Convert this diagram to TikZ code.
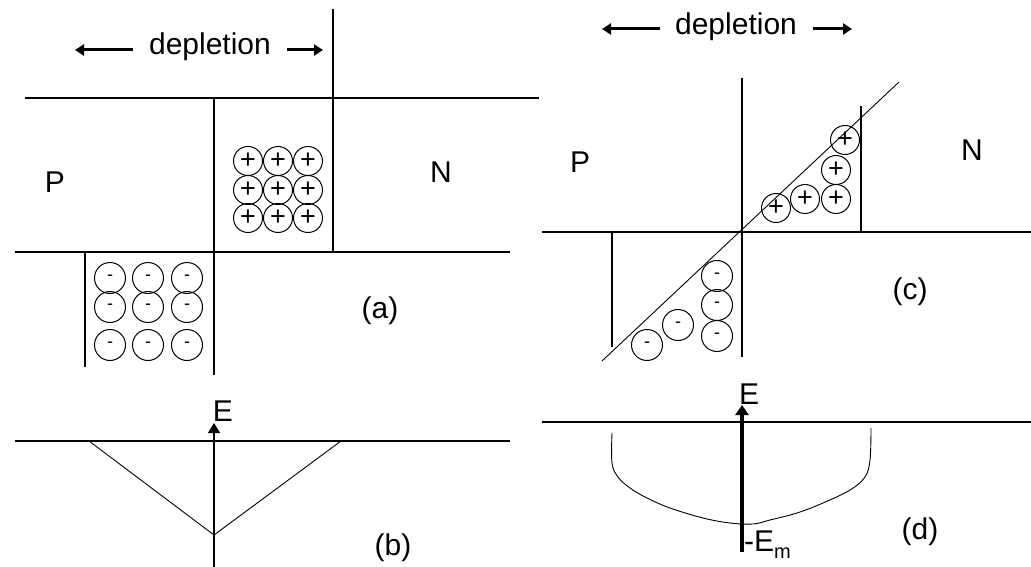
\documentclass[tikz,border=0pt]{standalone}
\usepackage{fontspec}
\setmainfont{Liberation Sans}
\usetikzlibrary{arrows.meta}
\begin{document}
\begin{tikzpicture}[x=1pt,y=-1pt,
  line/.style={line width=1.4pt},
  thinline/.style={line width=0.9pt},
  lbl/.style={font=\fontsize{30}{36}\selectfont, inner sep=0pt},
  pion/.style={circle,draw,line width=1pt,minimum size=29pt,inner sep=0pt,font=\fontsize{27}{30}\selectfont},
  nion/.style={circle,draw,line width=1pt,minimum size=31pt,inner sep=0pt,font=\fontsize{18}{20}\selectfont},
  deparrow/.style={line width=3pt,-{Triangle[length=9pt,width=11pt]}},
]
\useasboundingbox (0,0) rectangle (1031,567);

% ---------- (a) ----------
\draw[line] (25,98) -- (539,98);
\draw[line] (15,252) -- (510,252);
\draw[line] (333,9) -- (333,252);
\draw[line] (214,98) -- (214,375);
\draw[line] (85,252) -- (85,367);

\node[lbl] (dep1) at (210,47) {depletion};
\coordinate (d1l) at (133,50); \coordinate (d1lt) at (75,50);
\coordinate (d1r) at (287,50); \coordinate (d1rt) at (323,50);
\draw[deparrow] (d1l) -- (d1lt);
\draw[deparrow] (d1r) -- (d1rt);

\node[lbl] (P1) at (55,182) {P};
\node[lbl] (N1) at (441,172) {N};
\node[lbl] (la) at (380,311) {(a)};

\foreach \i/\x in {1/248,2/278,3/308}{
  \foreach \j/\y in {1/161,2/190,3/218}{
    \node[pion] (pa\i\j) at (\x,\y) {+};
  }
}
\foreach \i/\x in {1/110,2/148,3/187}{
  \foreach \j/\y in {1/278,2/307,3/345}{
    \node[nion] (na\i\j) at (\x,\y) {\raisebox{-3pt}{-}};
  }
}

% ---------- (b) ----------
\draw[line] (15,441) -- (510,441);
\coordinate (Eb0) at (214,570); \coordinate (Eb1) at (214,423);
\draw[line,-{Triangle[length=10pt,width=12pt]}] (Eb0) -- (Eb1);
\draw[thinline] (89,441) -- (214,535) -- (341,441);
\node[lbl] (E1) at (223,411) {E};
\node[lbl] (lb) at (393,548) {(b)};

% ---------- (c) ----------
\draw[line] (742,78) -- (742,357);
\draw[line] (542,232) -- (1031,232);
\draw[line] (861,106) -- (861,232);
\draw[line] (612,232) -- (612,347);
\draw[thinline] (602,361) -- (899,82);

\node[lbl] (dep2) at (736,27) {depletion};
\coordinate (d2l) at (660,29); \coordinate (d2lt) at (602,29);
\coordinate (d2r) at (813,29); \coordinate (d2rt) at (852,29);
\draw[deparrow] (d2l) -- (d2lt);
\draw[deparrow] (d2r) -- (d2rt);

\node[lbl] (P2) at (580,162) {P};
\node[lbl] (N2) at (972,150) {N};
\node[lbl] (lc) at (910,292) {(c)};

\node[pion] (pc1) at (845,140) {+};
\node[pion] (pc2) at (836,170) {+};
\node[pion] (pc3) at (836,199) {+};
\node[pion] (pc4) at (805,199) {+};
\node[pion] (pc5) at (776,208) {+};

\node[nion] (nc1) at (717,276) {\raisebox{-3pt}{-}};
\node[nion] (nc2) at (717,305) {\raisebox{-3pt}{-}};
\node[nion] (nc3) at (717,336) {\raisebox{-3pt}{-}};
\node[nion] (nc4) at (678,325) {\raisebox{-3pt}{-}};
\node[nion] (nc5) at (647,345) {\raisebox{-3pt}{-}};

% ---------- (d) ----------
\draw[line] (542,422) -- (1031,422);
\coordinate (Ed0) at (742,552); \coordinate (Ed1) at (742,405);
\draw[line width=4pt,-{Triangle[length=10pt,width=13pt]}] (Ed0) -- (Ed1);
\draw[thinline] plot[smooth,tension=0.6] coordinates {(612,433) (612,463) (618,477) (630,488) (647,498) (670,508) (703,518) (730,523) (753,524) (770,520) (797,513) (823,503) (850,490) (865,477) (870,460) (871,428)};
\node[lbl] (E2) at (749,394) {E};
\node[lbl,anchor=base west] (Em) at (744,551) {-E\raisebox{-7pt}{\fontsize{20}{22}\selectfont m}};
\node[lbl] (ld) at (920,532) {(d)};
\end{tikzpicture}
\end{document}
